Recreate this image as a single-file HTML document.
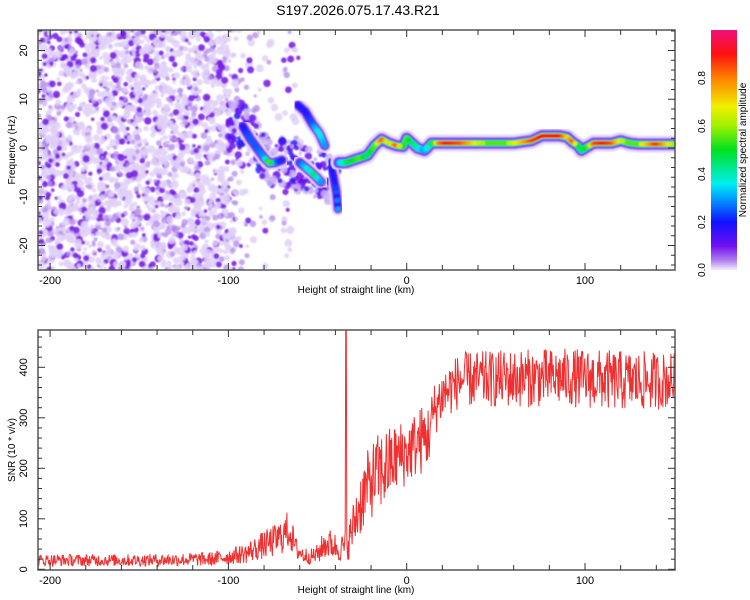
<!DOCTYPE html>
<html><head><meta charset="utf-8">
<style>
body{margin:0;background:#fff;width:750px;height:600px;overflow:hidden}
svg{display:block;font-family:"Liberation Sans",sans-serif}
</style></head>
<body>
<svg id="chart" width="750" height="600" viewBox="0 0 750 600">
<defs>
<linearGradient id="cbar" x1="0" y1="1" x2="0" y2="0">
<stop offset="0" stop-color="#f4ecfc"/><stop offset="0.04" stop-color="#b080f0"/><stop offset="0.1" stop-color="#7010f0"/>
<stop offset="0.2" stop-color="#1010ff"/><stop offset="0.3" stop-color="#00a0ff"/><stop offset="0.36" stop-color="#00f0f0"/>
<stop offset="0.5" stop-color="#00e020"/><stop offset="0.6" stop-color="#a0f000"/><stop offset="0.68" stop-color="#f0f000"/>
<stop offset="0.8" stop-color="#ff8000"/><stop offset="0.9" stop-color="#ff1010"/><stop offset="1" stop-color="#f0107a"/>
</linearGradient>
<clipPath id="clipTop"><rect x="38" y="30" width="637" height="240"/></clipPath>
<clipPath id="clipBot"><rect x="38" y="330" width="637" height="240"/></clipPath>
<filter id="soft"><feGaussianBlur stdDeviation="0.7"/></filter>
</defs>
<text x="358" y="15" font-size="14" text-anchor="middle">S197.2026.075.17.43.R21</text>
<g id="topMarks" clip-path="url(#clipTop)"></g>
<g id="botMarks" clip-path="url(#clipBot)"></g>
<g id="axes"></g>
<rect x="711" y="30" width="26" height="240" fill="url(#cbar)"/>
<text transform="translate(746,150) rotate(-90)" font-size="10" text-anchor="middle">Normalized spectral amplitude</text>
<text transform="translate(15,150) rotate(-90)" font-size="10" text-anchor="middle">Frequency (Hz)</text>
<text x="356" y="293" font-size="10" text-anchor="middle">Height of straight line (km)</text>
<text transform="translate(15,450) rotate(-90)" font-size="10" text-anchor="middle">SNR (10 * v/v)</text>
<text x="356" y="593" font-size="10" text-anchor="middle">Height of straight line (km)</text>
</svg>
<script>
// ---- data ----
const xTicks = [-200, -100, 0, 100];
const freqTicks = [-20, -10, 0, 10, 20];
const snrTicks = [0, 100, 200, 300, 400];
const cbarTicks = [0.0, 0.2, 0.4, 0.6, 0.8];
// ridge pieces: height (km), frequency (Hz), normalized amplitude
const seg1H = [-92,-88,-84,-80,-77,-74,-70];
const seg1F = [4.5,2,0,-2,-3.1,-3,-2.5];
const seg1A = [0.2,0.25,0.25,0.3,0.6,0.3,0.2];
const seg2H = [-60,-56,-52,-48];
const seg2F = [-3,-4.2,-5.5,-7];
const seg2A = [0.25,0.35,0.45,0.3];
const branchH = [-61,-57,-53,-49,-46];
const branchF = [8.8,7.5,5,3,0.5];
const branchA = [0.2,0.2,0.25,0.38,0.3];
const vertH = [-43,-41,-39.5,-38.5];
const vertF = [-3,-6,-9,-12.5];
const vertA = [0.2,0.2,0.25,0.3];
const ridgeH = [-38,-34,-30,-26,-22,-18,-14,-10,-6,-2,0,3,6,10,14,18,22,30,40,50,60,70,76,80,86,90,93,96,98,101,105,110,115,120,125,130,140,150];
const ridgeF = [-3,-3,-2.5,-2,-1.5,0.5,1.8,1,0.5,0.3,2,1,0,-0.5,1,1,1,1,1,1,1,1.5,2.5,2.5,2.5,2.2,1.2,0.5,-0.5,0.2,1,1,1,1.5,1,0.8,0.8,0.8];
const ridgeA = [0.3,0.45,0.5,0.55,0.45,0.55,0.85,0.6,0.85,0.5,0.55,0.45,0.4,0.3,0.45,0.8,0.9,0.85,0.65,0.55,0.65,0.85,0.9,0.92,0.9,0.7,0.85,0.5,0.45,0.5,0.85,0.9,0.85,0.65,0.55,0.6,0.88,0.6];
// SNR envelope: height (km), mean, half range
const snrH = [-206,-150,-110,-100,-90,-80,-75,-70,-66,-62,-58,-54,-50,-46,-42,-38,-35,-32,-28,-24,-20,-16,-12,-8,-4,0,4,8,12,16,20,25,30,60,90,110,130,151];
const snrMean = [18,18,20,25,32,48,55,65,80,40,28,25,30,50,50,40,45,60,110,150,175,190,200,215,225,230,245,255,265,320,345,360,375,378,380,375,372,375];
const snrHalf = [12,12,14,16,20,28,32,35,40,22,18,15,20,30,30,25,30,40,60,70,75,80,80,70,70,65,65,70,65,55,55,55,55,58,58,60,60,55];
const spikeH = [-34];
const spikeV = [480];

// ---- scales ----
const X0=406.7, KX=1.783;
const xS = h => X0 + h*KX;
const yF = f => 148 - f*4.875;
const yS = v => 569.3 - v*0.505;
const NS='http://www.w3.org/2000/svg';
function mk(tag, attrs, parent){const e=document.createElementNS(NS,tag);for(const k in attrs)e.setAttribute(k,attrs[k]);parent.appendChild(e);return e;}
let seed=12345; function rnd(){seed=(seed*1103515245+12345)&0x7fffffff;return seed/0x7fffffff;}
function interp(xs,ys,x){if(x<=xs[0])return ys[0];for(let i=1;i<xs.length;i++){if(x<=xs[i]){const t=(x-xs[i-1])/(xs[i]-xs[i-1]);return ys[i-1]+t*(ys[i]-ys[i-1]);}}return ys[ys.length-1];}
const cstops=[[0,[244,236,252]],[0.04,[176,128,240]],[0.1,[112,16,240]],[0.2,[16,16,255]],[0.3,[0,160,255]],[0.36,[0,240,240]],[0.5,[0,224,32]],[0.6,[160,240,0]],[0.68,[240,240,0]],[0.8,[255,128,0]],[0.9,[255,16,16]],[1,[240,16,122]]];
function cmap(a){for(let i=1;i<cstops.length;i++){if(a<=cstops[i][0]){const t=(a-cstops[i-1][0])/(cstops[i][0]-cstops[i-1][0]);const c=cstops[i-1][1].map((v,j)=>Math.round(v+t*(cstops[i][1][j]-v)));return 'rgb('+c.join(',')+')';}}return 'rgb(240,16,122)';}

// ---- spectrogram background texture ----
const topG=document.getElementById('topMarks');
const tex=mk('g',{filter:'url(#soft)'},topG);


for(let i=0;i<3800;i++){
  const h=-207+rnd()*150; const f=-25+rnd()*50;
  let dens = h<-100?0.8:(h<-92?0.45:(h<-60?0.1:0.03));
  if(rnd()>dens) continue;
  const k=rnd();
  if(k<0.2) mk('circle',{cx:xS(h),cy:yF(f),r:1.6+rnd()*2.2,fill:'#7a1ee8','fill-opacity':0.9},tex);
  else if(k<0.4) mk('circle',{cx:xS(h),cy:yF(f),r:1.5+rnd()*2,fill:'#b890f0','fill-opacity':0.8},tex);
  else mk('circle',{cx:xS(h),cy:yF(f),r:1.8+rnd()*2.4,fill:'#e0d0f8','fill-opacity':0.85},tex);
}
// messy band around the early track
const mess=mk('g',{filter:'url(#soft)'},topG);


for(let i=0;i<260;i++){
  const h=-100+rnd()*62; const f=interp(seg1H,seg1F,Math.min(h,-70))+(rnd()*2-1)*5+ (h>-70?(h+70)*-0.15:0);
  const k=rnd();
  mk('circle',{cx:xS(h),cy:yF(f),r:1.8+rnd()*2.4,fill:k<0.35?'#6a10ee':(k<0.5?'#2a20f8':'#cdb4f4'),'fill-opacity':0.85},mess);
}
// ---- ridges ----
function drawRidge(H,F,A,name,scale){
  const g=mk('g',{filter:'url(#soft)'},topG);
  
  
  const layers=[[17,'#e6d8f8'],[12,'#9c58f0'],[9,'#6614f0'],[7,'#1c1cff']];
  let p='';
  for(let h=H[0];h<=H[H.length-1]+0.01;h+=0.25){p+=(p?'L':'M')+xS(h).toFixed(1)+' '+yF(interp(H,F,h)).toFixed(1);}
  for(const [w,c] of layers) mk('path',{d:p,stroke:c,'stroke-width':w*scale,fill:'none','stroke-linecap':'round','stroke-linejoin':'round'},g);
  const passes=[[0.22,3.3,0.38],[0.42,2.6,0.55],[0.62,2.0,1]];
  for(const [thr,rad,cap] of passes){
    for(let h=H[0];h<=H[H.length-1];h+=0.5){
      const a=interp(H,A,h);
      if(a<thr) continue;
      mk('circle',{cx:xS(h),cy:yF(interp(H,F,h)),r:rad*scale,fill:cmap(Math.min(a,cap))},g);
    }
  }
}
drawRidge(seg1H,seg1F,seg1A,'early-ridge',0.85);
drawRidge(seg2H,seg2F,seg2A,'lower-ridge-segment',0.85);
drawRidge(branchH,branchF,branchA,'upper-branch',0.85);
drawRidge(vertH,vertF,vertA,'falling-branch',0.8);
drawRidge(ridgeH,ridgeF,ridgeA,'main-ridge',1);

// ---- SNR line ----
const botG=document.getElementById('botMarks');
let sd='';
for(let h=-207;h<=152;h+=0.3){
  const m=interp(snrH,snrMean,h), s=interp(snrH,snrHalf,h);
  let v=m+(rnd()*2-1)*s;
  for(let j=0;j<spikeH.length;j++){ if(Math.abs(h-spikeH[j])<0.35) v=spikeV[j]; }
  sd+=(sd?'L':'M')+xS(h).toFixed(1)+' '+yS(Math.max(0,v)).toFixed(1);
}
const snrLine=mk('path',{d:sd,stroke:'#f03030',fill:'none','stroke-width':1},botG);



// ---- axes ----
const ax=document.getElementById('axes');
function frame(y0,name){
  const r=mk('rect',{x:38,y:y0,width:637,height:240,fill:'none',stroke:'#555','stroke-width':1.5},ax);
  
  
  for(let h=-200;h<=140;h+=20){const x=xS(h);const L=(h%100===0)?7:5;
    mk('line',{x1:x,y1:y0,x2:x,y2:y0+L,stroke:'#333'},ax);mk('line',{x1:x,y1:y0+240,x2:x,y2:y0+240-L,stroke:'#333'},ax);}
  for(const t of xTicks){const tl=mk('text',{x:xS(t),y:y0+254,'font-size':11,'text-anchor':'middle'},ax);tl.textContent=t;
    
    }
}
frame(30,'top-plot-frame');frame(330,'bottom-plot-frame');
for(let f=-24;f<=24;f+=2){const y=yF(f);const L=f%10===0?7:4;mk('line',{x1:38,y1:y,x2:38+L,y2:y,stroke:'#333'},ax);mk('line',{x1:675,y1:y,x2:675-L,y2:y,stroke:'#333'},ax);}
for(const t of freqTicks){const tl=mk('text',{transform:'translate(27,'+yF(t)+') rotate(-90)','font-size':11,'text-anchor':'middle'},ax);tl.textContent=t;
  
  }
for(let v=0;v<=460;v+=20){const y=yS(v);const L=v%100===0?7:4;mk('line',{x1:38,y1:y,x2:38+L,y2:y,stroke:'#333'},ax);mk('line',{x1:675,y1:y,x2:675-L,y2:y,stroke:'#333'},ax);}
for(const t of snrTicks){const tl=mk('text',{transform:'translate(27,'+yS(t)+') rotate(-90)','font-size':11,'text-anchor':'middle'},ax);tl.textContent=t;
  
  }
for(const t of cbarTicks){const y=270-t*240;const tl=mk('text',{transform:'translate(705,'+y+') rotate(-90)','font-size':10,'text-anchor':'middle'},ax);tl.textContent=t.toFixed(1);
  
  }
</script>
</body></html>
